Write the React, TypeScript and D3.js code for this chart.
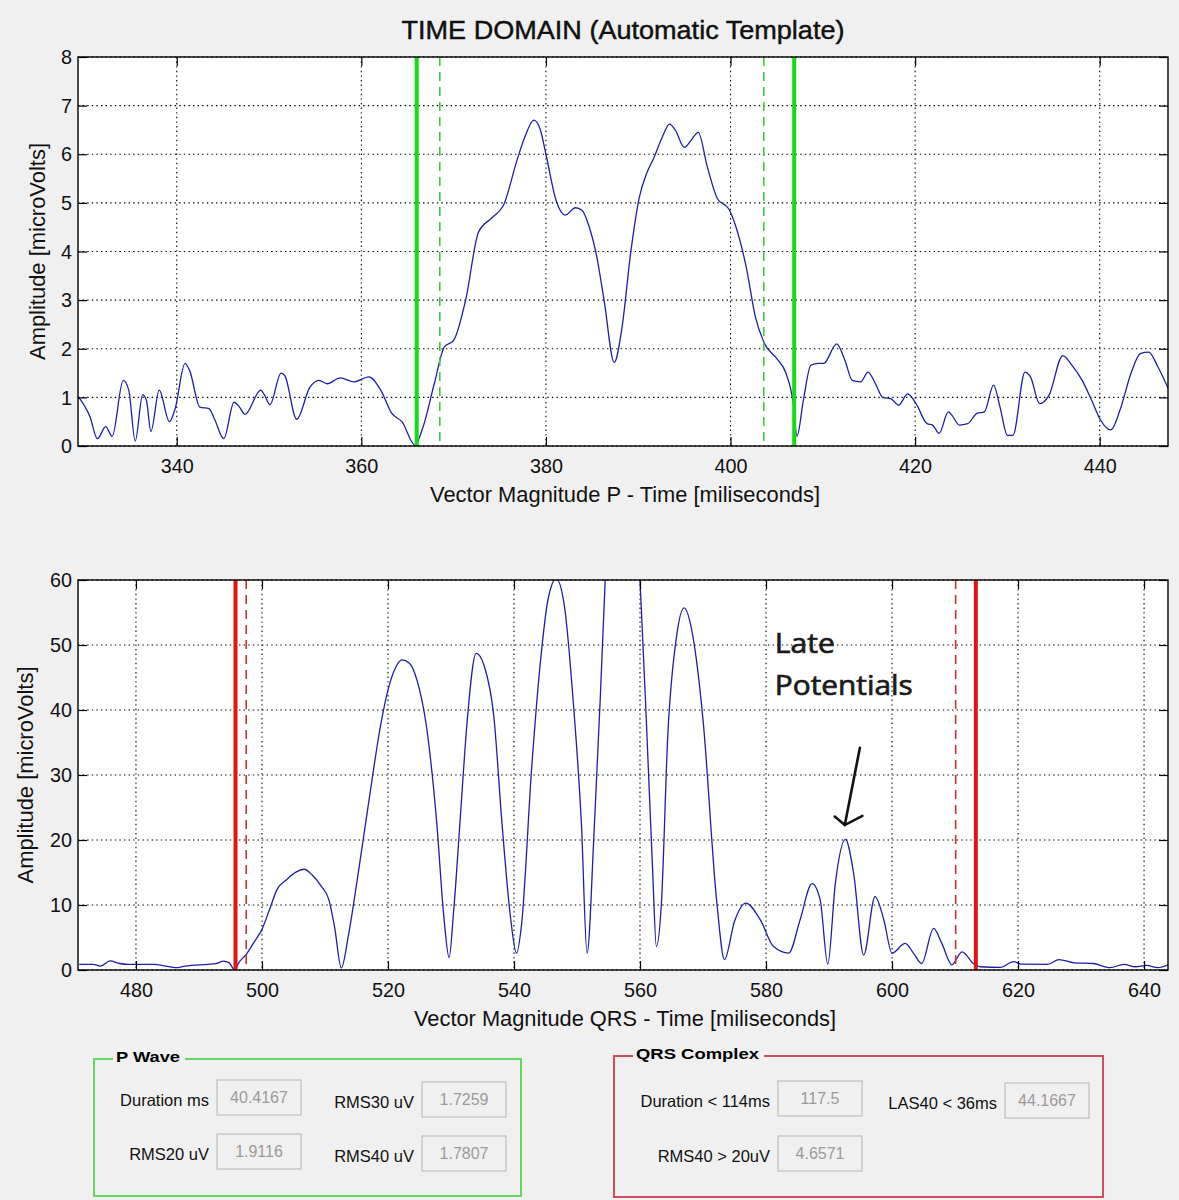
import React, { useRef, useEffect } from "react";
import * as d3 from "d3";

// P wave vector magnitude
const pTime = [
  329.4, 330.6, 331.4, 332.3, 333.0, 334.2, 334.8, 335.5, 336.3, 336.7, 337.2, 338.1, 339.2, 339.8,
  340.9, 341.4, 342.5, 343.5, 344.1, 345.1, 346.2, 346.8, 347.4, 349.1, 349.5, 350.1, 351.3, 351.7,
  353.0, 354.4, 355.4, 356.3, 357.7, 359.2, 360.8, 362.1, 363.3, 364.4, 365.8, 366.7, 367.9, 369.0,
  370.0, 371.3, 372.7, 374.2, 375.4, 376.9, 377.7, 378.7, 379.4, 380.0, 381.1, 382.1, 383.2, 383.9,
  384.7, 385.5, 386.3, 387.4, 388.2, 389.2, 390.1, 390.9, 391.7, 392.6, 393.4, 394.0, 395.0, 395.7,
  396.5, 397.5, 398.6, 399.8, 400.6, 401.7, 402.7, 403.7, 405.0, 406.0, 406.8, 407.2, 407.9, 408.7,
  409.5, 410.1, 411.5, 412.4, 413.2, 414.1, 414.9, 415.7, 416.5, 417.4, 418.2, 419.2, 420.1, 421.3,
  421.9, 422.6, 423.6, 424.0, 424.8, 425.7, 426.7, 427.5, 428.5, 429.2, 430.0, 430.6, 431.9, 432.5,
  433.5, 434.5, 436.0, 437.0, 438.1, 439.1, 440.1, 441.2, 442.2, 443.4, 444.4, 445.3, 446.3, 447.5,
];
const pAmp = [
  1.0, 0.6, 0.15, 0.4, 0.2, 1.35, 1.15, 0.1, 1.05, 0.95, 0.3, 1.15, 0.5, 0.75,
  1.7, 1.55, 0.8, 0.77, 0.55, 0.15, 0.9, 0.8, 0.65, 1.15, 1.05, 0.85, 1.5, 1.45,
  0.55, 1.2, 1.35, 1.28, 1.4, 1.32, 1.42, 1.15, 0.67, 0.5, 0.02, 0.4, 1.28, 2.04,
  2.17, 3.0, 4.4, 4.7, 4.95, 5.9, 6.35, 6.7, 6.5, 6.0, 5.05, 4.75, 4.9, 4.85,
  4.5, 3.9, 3.0, 1.72, 2.38, 4.0, 5.1, 5.6, 5.93, 6.35, 6.62, 6.5, 6.14, 6.28,
  6.45, 5.73, 5.08, 4.88, 4.5, 3.68, 2.65, 2.1, 1.8, 1.5, 0.88, 0.2, 0.95, 1.66,
  1.7, 1.7, 2.1, 1.76, 1.35, 1.32, 1.52, 1.28, 1.0, 0.97, 0.84, 1.07, 0.87, 0.46,
  0.43, 0.26, 0.7, 0.63, 0.43, 0.46, 0.67, 0.7, 1.25, 0.8, 0.22, 0.22, 1.52, 1.42,
  0.87, 1.04, 1.86, 1.66, 1.35, 0.95, 0.53, 0.33, 0.74, 1.5, 1.9, 1.93, 1.63, 1.15,
];

// QRS vector magnitude (peak near 557 runs off the top)
const qrsTime = [
  471.0, 473.2, 474.4, 475.9, 477.4, 478.7, 482.9, 484.7, 486.3, 487.8, 491.4, 492.7, 493.9, 494.8,
  495.7, 496.3, 497.5, 498.7, 500.0, 501.2, 502.4, 503.9, 505.4, 506.7, 507.9, 509.4, 510.6, 511.5,
  512.6, 513.7, 515.2, 517.0, 518.8, 520.0, 521.3, 522.2, 523.4, 524.6, 526.1, 527.7, 528.9, 529.7,
  530.4, 531.6, 532.5, 534.0, 535.3, 536.8, 538.1, 539.4, 540.4, 541.2, 542.8, 544.2, 545.4, 546.7,
  548.0, 549.4, 550.7, 551.6, 552.7, 553.7, 554.5, 555.6, 557.2, 558.8, 560.0, 561.0, 562.0, 562.6,
  563.4, 564.4, 565.8, 567.0, 568.4, 570.0, 572.2, 573.4, 575.0, 576.8, 579.1, 581.2, 583.6, 585.4,
  587.3, 588.6, 589.8, 591.0, 592.6, 593.9, 595.5, 597.3, 598.7, 600.0, 602.1, 603.4, 604.7, 606.6,
  607.9, 609.5, 611.1, 612.9, 614.0, 617.2, 619.3, 620.5, 624.7, 626.5, 628.9, 631.9, 634.6, 636.8,
  638.6, 640.4, 642.2, 644.0,
];
const qrsAmp = [
  0.87, 0.87, 0.6, 1.4, 1.0, 0.87, 0.87, 0.6, 0.36, 0.6, 0.87, 0.97, 1.38, 1.1,
  0.0, 1.1, 2.4, 4.2, 6.25, 9.3, 12.4, 13.9, 15.05, 15.5, 14.7, 12.9, 10.86, 6.76,
  0.3, 5.2, 14.4, 26.2, 37.5, 43.1, 46.7, 47.7, 47.2, 44.6, 37.5, 23.1, 7.8, 1.9,
  8.8, 25.2, 37.5, 48.7, 46.7, 39.0, 22.5, 8.5, 2.6, 7.0, 31.0, 47.5, 57.0, 60.2,
  56.0, 41.3, 22.5, 2.6, 21.0, 42.0, 60.5, 80.0, 92.0, 80.0, 60.0, 38.5, 15.4, 3.6,
  10.3, 35.9, 51.3, 55.7, 51.3, 38.5, 10.3, 1.6, 7.5, 10.3, 7.7, 3.6, 2.6, 7.7,
  13.3, 10.8, 0.9, 13.3, 20.1, 14.9, 2.3, 11.3, 7.7, 2.6, 4.1, 2.6, 1.0, 6.4,
  4.1, 0.8, 2.8, 1.0, 0.5, 0.4, 1.3, 0.9, 0.87, 1.6, 1.1, 1.0, 0.36, 0.87,
  0.5, 0.7, 0.36, 0.87,
];

const pTicksX = [340, 360, 380, 400, 420, 440];
const pTicksY = [0, 1, 2, 3, 4, 5, 6, 7, 8];
const qrsTicksX = [480, 500, 520, 540, 560, 580, 600, 620, 640];
const qrsTicksY = [0, 10, 20, 30, 40, 50, 60];

// onset / offset markers (solid = boundary, dashed = inner)
const pSolid = [366.0, 406.9];
const pDashed = [368.5, 403.6];
const qrsSolid = [495.8, 613.3];
const qrsDashed = [497.5, 610.1];

// arrow for the late potentials note: tail, tip, wing, wing (ms, uV)
const arrowPts = [[594.9, 34.2], [592.5, 22.3], [590.9, 23.6], [595.3, 23.7]];
const noteLines = ["Late", "Potentials"];
const noteAt = [581.4, 48.8];

const pWaveLabels = ["Duration ms", "RMS30 uV", "RMS20 uV", "RMS40 uV"];
const pWaveValues = ["40.4167", "1.7259", "1.9116", "1.7807"];
const qrsLabels = ["Duration < 114ms", "LAS40 < 36ms", "RMS40 > 20uV"];
const qrsValues = ["117.5", "44.1667", "4.6571"];

const W = 1179;
const H = 1200;
const FONT = "'Liberation Sans', Arial, sans-serif";

const drawPlot = (svg, cfg) => {
  const { id, left, right, top, bottom, xDomain, yDomain, xTicks, yTicks, time, amp,
    solid, dashed, solidColor, dashColor, xLabel, yLabelX } = cfg;
  const x = d3.scaleLinear().domain(xDomain).range([left, right]);
  const y = d3.scaleLinear().domain(yDomain).range([bottom, top]);
  const g = svg.append("g");

  g.append("rect").attr("x", left).attr("y", top)
    .attr("width", right - left).attr("height", bottom - top).attr("fill", "#fff");

  g.append("clipPath").attr("id", id)
    .append("rect").attr("x", left).attr("y", top)
    .attr("width", right - left).attr("height", bottom - top);

  // dotted grid
  g.append("g").selectAll("line").data(xTicks).join("line")
    .attr("x1", d => x(d)).attr("x2", d => x(d)).attr("y1", top).attr("y2", bottom)
    .attr("stroke", "#000").attr("stroke-width", 1.1).attr("stroke-dasharray", "1.4,3.2");
  g.append("g").selectAll("line").data(yTicks).join("line")
    .attr("x1", left).attr("x2", right).attr("y1", d => y(d)).attr("y2", d => y(d))
    .attr("stroke", "#000").attr("stroke-width", 1.1).attr("stroke-dasharray", "1.4,3.2");

  const line = d3.line()
    .x(i => x(time[i]))
    .y(i => y(amp[i]))
    .curve(d3.curveMonotoneX);
  g.append("path").attr("d", line(d3.range(time.length)))
    .attr("clip-path", `url(#${id})`)
    .attr("fill", "none").attr("stroke", "#1e1ea6").attr("stroke-width", 1.3);

  g.append("g").selectAll("line").data(dashed).join("line")
    .attr("x1", d => x(d)).attr("x2", d => x(d)).attr("y1", top).attr("y2", bottom)
    .attr("stroke", dashColor).attr("stroke-width", 1.6).attr("stroke-dasharray", "9,6");
  g.append("g").selectAll("line").data(solid).join("line")
    .attr("x1", d => x(d)).attr("x2", d => x(d)).attr("y1", top).attr("y2", bottom)
    .attr("stroke", solidColor).attr("stroke-width", 4);

  g.append("rect").attr("x", left).attr("y", top)
    .attr("width", right - left).attr("height", bottom - top)
    .attr("fill", "none").attr("stroke", "#000").attr("stroke-width", 1.4);

  // MATLAB style inward ticks on all four sides
  const style = a => a.call(s => s.select(".domain").remove())
    .call(s => s.selectAll(".tick line").attr("stroke", "#000").attr("stroke-width", 1.2));

  g.append("g").attr("transform", `translate(0,${bottom})`)
    .call(d3.axisBottom(x).tickValues(xTicks).tickSize(-9).tickPadding(12).tickFormat(d3.format("d")))
    .call(style)
    .call(s => s.selectAll("text")
      .attr("font-family", FONT).attr("font-size", 21).attr("fill", "#111")
      .attr("textLength", d => String(d).length * 11).attr("lengthAdjust", "spacingAndGlyphs"));
  g.append("g").attr("transform", `translate(0,${top})`)
    .call(d3.axisTop(x).tickValues(xTicks).tickSize(-9).tickFormat(() => ""))
    .call(style);
  g.append("g").attr("transform", `translate(${left},0)`)
    .call(d3.axisLeft(y).tickValues(yTicks).tickSize(-9).tickPadding(6).tickFormat(d3.format("d")))
    .call(style)
    .call(s => s.selectAll("text")
      .attr("font-family", FONT).attr("font-size", 21).attr("fill", "#111")
      .attr("textLength", d => String(d).length * 11).attr("lengthAdjust", "spacingAndGlyphs"));
  g.append("g").attr("transform", `translate(${right},0)`)
    .call(d3.axisRight(y).tickValues(yTicks).tickSize(-9).tickFormat(() => ""))
    .call(style);

  g.append("text").text(xLabel)
    .attr("x", (left + right) / 2 + 2).attr("y", bottom + 56)
    .attr("text-anchor", "middle").attr("font-family", FONT).attr("font-size", 22).attr("fill", "#111")
    .attr("textLength", cfg.xLabelLen).attr("lengthAdjust", "spacingAndGlyphs");

  g.append("text").text("Amplitude [microVolts]")
    .attr("transform", `translate(${yLabelX},${(top + bottom) / 2}) rotate(-90)`)
    .attr("text-anchor", "middle").attr("font-family", FONT).attr("font-size", 22).attr("fill", "#111")
    .attr("textLength", 217).attr("lengthAdjust", "spacingAndGlyphs");

  return { x, y };
};

const drawPanel = (svg, box, title, titleLen, color, labels, values, slots) => {
  const g = svg.append("g");
  g.append("rect").attr("x", box[0]).attr("y", box[1])
    .attr("width", box[2] - box[0]).attr("height", box[3] - box[1])
    .attr("fill", "none").attr("stroke", color).attr("stroke-width", 2);
  g.append("rect").attr("x", box[0] + 19).attr("y", box[1] - 8)
    .attr("width", titleLen + 8).attr("height", 14).attr("fill", "#f0f0f0");
  g.append("text").text(title)
    .attr("x", box[0] + 22).attr("y", box[1] + 3)
    .attr("font-family", FONT).attr("font-weight", "bold").attr("font-size", 15).attr("fill", "#000")
    .attr("textLength", titleLen).attr("lengthAdjust", "spacingAndGlyphs");

  labels.forEach((lab, i) => {
    const [bx, by] = slots[i];
    g.append("rect").attr("x", bx).attr("y", by).attr("width", 84).attr("height", 35)
      .attr("fill", "#f0f0f0").attr("stroke", "#b4b4b4").attr("stroke-width", 1);
    g.append("text").text(values[i])
      .attr("x", bx + 42).attr("y", by + 23).attr("text-anchor", "middle")
      .attr("font-family", FONT).attr("font-size", 16).attr("fill", "#9a9a9a");
    g.append("text").text(lab)
      .attr("x", bx - 8).attr("y", by + 26).attr("text-anchor", "end")
      .attr("font-family", FONT).attr("font-size", 16.5).attr("fill", "#111");
  });
};

const App = () => {
  const ref = useRef(null);

  useEffect(() => {
    const svg = d3.select(ref.current);
    svg.selectAll("*").remove();
    svg.append("rect").attr("width", W).attr("height", H).attr("fill", "#f0f0f0");

    svg.append("text").text("TIME DOMAIN (Automatic Template)")
      .attr("x", 623).attr("y", 39).attr("text-anchor", "middle")
      .attr("font-family", FONT).attr("font-size", 26).attr("fill", "#111")
      .attr("stroke", "#111").attr("stroke-width", 0.45)
      .attr("textLength", 443).attr("lengthAdjust", "spacingAndGlyphs");

    drawPlot(svg, {
      id: "clipP", left: 78, right: 1168, top: 57, bottom: 446,
      xDomain: [329.3, 447.4], yDomain: [0, 8], xTicks: pTicksX, yTicks: pTicksY,
      time: pTime, amp: pAmp, solid: pSolid, dashed: pDashed,
      solidColor: "#14dc14", dashColor: "#3cc83c",
      xLabel: "Vector Magnitude P - Time [miliseconds]", xLabelLen: 390, yLabelX: 45,
    });

    const { x, y } = drawPlot(svg, {
      id: "clipQ", left: 78, right: 1168, top: 580, bottom: 970,
      xDomain: [470.8, 643.8], yDomain: [0, 60], xTicks: qrsTicksX, yTicks: qrsTicksY,
      time: qrsTime, amp: qrsAmp, solid: qrsSolid, dashed: qrsDashed,
      solidColor: "#e01414", dashColor: "#c83232",
      xLabel: "Vector Magnitude QRS - Time [miliseconds]", xLabelLen: 422, yLabelX: 33,
    });

    // late potentials note
    const note = svg.append("g").attr("font-family", "'Open Sans', Lato, sans-serif")
      .attr("font-size", 28).attr("fill", "#1a1a1a")
      .attr("stroke", "#1a1a1a").attr("stroke-width", 0.7);
    noteLines.forEach((t, i) => {
      note.append("text").text(t)
        .attr("x", x(noteAt[0])).attr("y", y(noteAt[1]) + i * 42)
        .attr("textLength", i === 0 ? 60 : 138).attr("lengthAdjust", "spacingAndGlyphs");
    });
    const [tail, tip, w1, w2] = arrowPts;
    const arrow = svg.append("g").attr("stroke", "#111").attr("stroke-width", 2.6)
      .attr("stroke-linecap", "round").attr("fill", "none");
    arrow.append("path").attr("d", d3.line()([[x(tail[0]), y(tail[1])], [x(tip[0]), y(tip[1])]]));
    arrow.append("path").attr("d", d3.line()([
      [x(w1[0]), y(w1[1])], [x(tip[0]), y(tip[1])], [x(w2[0]), y(w2[1])],
    ]));

    drawPanel(svg, [94, 1059, 521, 1196], "P Wave", 64, "#62d862",
      pWaveLabels, pWaveValues, [[217, 1080], [422, 1082], [217, 1134], [422, 1136]]);
    drawPanel(svg, [614, 1056, 1103, 1197], "QRS Complex", 123, "#d24c5c",
      qrsLabels, qrsValues, [[778, 1081], [1005, 1083], [778, 1136]]);
  }, []);

  return (
    <svg ref={ref} width={W} height={H} style={{ position: "absolute", left: 0, top: 0 }} />
  );
};

export default App;
